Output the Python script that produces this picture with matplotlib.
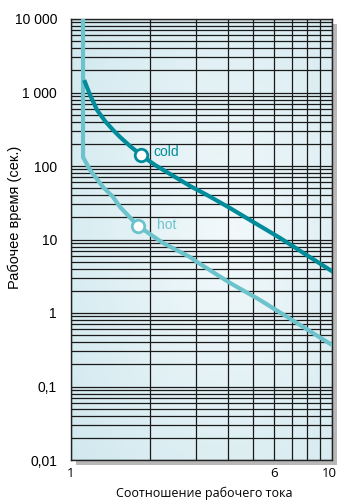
import numpy as np
import matplotlib
matplotlib.use("Agg")
import matplotlib.pyplot as plt
import matplotlib.ticker as mt
import matplotlib.transforms as mtrans
from matplotlib.patches import Rectangle

# Data
cold_x = [1.131, 1.183, 1.258, 1.350, 1.449, 1.541, 1.683, 1.854, 2.099, 2.395,
          2.857, 3.32, 4.065, 4.85, 6.32, 7.88, 9.83, 10.0]
cold_y = [1390, 925, 578, 409, 309, 248, 187, 141, 103, 77.9,
          53.5, 40.3, 26.8, 18.4, 10.5, 6.35, 3.85, 3.7]
hot_x = [1.112, 1.112, 1.112, 1.183, 1.326, 1.449, 1.541, 1.806, 2.252, 2.857,
         3.04, 4.07, 5.30, 7.21, 10.0]
hot_y = [10000, 165, 132, 88.2, 51.8, 37.9, 27.7, 15.3, 8.96, 5.78,
         4.94, 2.56, 1.50, 0.76, 0.367]
cold_marker = (1.854, 141)
hot_marker = (1.806, 15.3)
ytick_vals = [0.01, 0.1, 1, 10, 100, 1000, 10000]
ytick_labels = ["0,01", "0,1", "1", "10", "100", "1 000", "10 000"]
xtick_vals = [1, 6, 10]
xtick_labels = ["1", "6", "10"]

W, H = 337, 503
fig = plt.figure(figsize=(W / 100, H / 100), dpi=100)
fig.patch.set_facecolor("white")
left, right, top, bottom = 71, 332, 19, 460
ax = fig.add_axes([left / W, 1 - bottom / H, (right - left) / W, (bottom - top) / H])

# shadow
sh = Rectangle(((left + 5) / W, 1 - (bottom + 5) / H), (right - left) / W, (bottom - top) / H,
               transform=fig.transFigure, facecolor="#b8b8b8", edgecolor="none", zorder=-5)
fig.patches.append(sh)

ax.set_xscale("log")
ax.set_yscale("log")
ax.set_xlim(1, 10)
ax.set_ylim(0.01, 10000)

# gradient background
gx, gy = np.meshgrid(np.linspace(0, 1, 200), np.linspace(0, 1, 300))
r = np.sqrt(((gx - 0.6) / 0.8) ** 2 + ((gy - 0.5) / 0.8) ** 2)
r = np.clip(r, 0, 1)
c0 = np.array([0xf2, 0xf9, 0xfb]) / 255
c1 = np.array([0xd0, 0xe8, 0xee]) / 255
img = c0[None, None, :] * (1 - r[..., None]) + c1[None, None, :] * r[..., None]
ax.imshow(img, extent=[0, 1, 0, 1], transform=ax.transAxes, aspect="auto", zorder=0, origin="lower")

ax.grid(True, which="both", color="#1a1a1a", linewidth=0.9, zorder=1)

cold_c = "#008c9b"
hot_c = "#6cc3cc"
ax.plot(hot_x, hot_y, color=hot_c, lw=3.0, zorder=3, solid_joinstyle="round")
ax.plot(cold_x, cold_y, color=cold_c, lw=3.0, zorder=4, solid_joinstyle="round")
ax.plot(*cold_marker, marker="o", ms=9, mfc="white", mec=cold_c, mew=2, zorder=5)
ax.plot(*hot_marker, marker="o", ms=9, mfc="white", mec=hot_c, mew=2, zorder=5)
ax.annotate("cold", cold_marker, xytext=(9, 2), textcoords="offset points",
            color=cold_c, fontsize=10, family="Liberation Sans", va="center", ha="left", zorder=6)
ax.annotate("hot", hot_marker, xytext=(14, 1), textcoords="offset points",
            color=hot_c, fontsize=10, family="Liberation Sans", va="center", ha="left", zorder=6)

ax.set_yticks(ytick_vals)
ax.set_yticklabels(ytick_labels, family="Liberation Sans")
ax.set_xticks(xtick_vals)
ax.set_xticklabels(xtick_labels, family="Open Sans")
ax.xaxis.set_minor_locator(mt.LogLocator(base=10, subs=np.arange(2, 10)))
ax.yaxis.set_minor_locator(mt.LogLocator(base=10, subs=np.arange(2, 10), numticks=20))
ax.xaxis.set_minor_formatter(mt.NullFormatter())
ax.yaxis.set_minor_formatter(mt.NullFormatter())
ax.tick_params(which="both", length=0)
ax.tick_params(axis="y", pad=10, labelsize=10)
ax.tick_params(axis="x", pad=5, labelsize=9.5)
# shift the "10" label slightly left so it stays inside the figure
lbls = ax.get_xticklabels()
lbls[-1].set_transform(lbls[-1].get_transform() + mtrans.ScaledTranslation(-3 / 100, 0, fig.dpi_scale_trans))

for s in ax.spines.values():
    s.set_color("#222222")
    s.set_linewidth(1.0)

fig.text(15 / W, 1 - 217 / H, "Рабочее время (сек.)", rotation=90, fontsize=10.5,
         family="Liberation Sans", ha="center", va="center")
fig.text(204 / W, 1 - 493 / H, "Соотношение рабочего тока", fontsize=9,
         family="Open Sans", ha="center", va="center")

fig.savefig("out.png", dpi=100)
